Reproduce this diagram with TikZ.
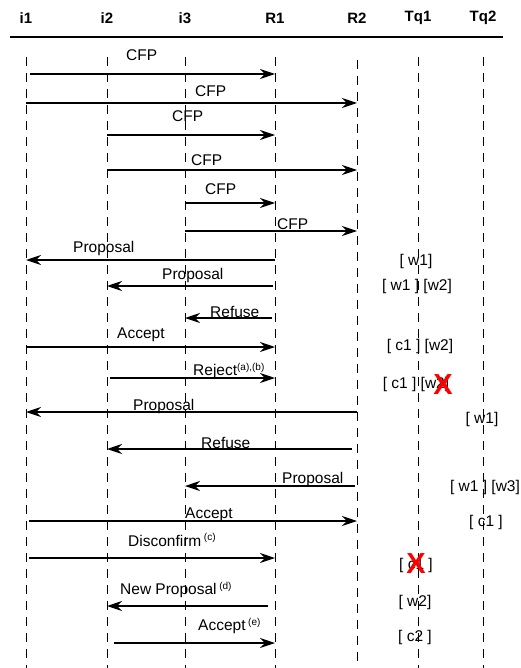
\documentclass[tikz,border=0pt]{standalone}
\usepackage{fontspec}
\setmainfont{Liberation Sans}
\usetikzlibrary{arrows.meta}

\newcommand{\supnote}[1]{\raisebox{0.7ex}{\fontsize{10}{12}\selectfont #1}}

\tikzset{
  actor/.style={font=\fontsize{15}{18}\selectfont\bfseries, inner sep=1pt},
  lifeline/.style={line width=0.8pt, dash pattern=on 9pt off 7pt},
  msg/.style={line width=1.2pt, -{Stealth[length=15pt,width=10pt,inset=5pt]}},
  msglabel/.style={font=\fontsize{15.5}{18}\selectfont, anchor=west, inner sep=0pt},
  queue/.style={font=\fontsize{15.5}{18}\selectfont, inner sep=0pt},
  cancel/.style={text=red, font=\fontsize{29}{30}\selectfont\bfseries, inner sep=0pt}
}

\begin{document}
\begin{tikzpicture}[x=1pt,y=-1pt]
  \useasboundingbox (0,0) rectangle (520,668);

  % agents
  \node[actor] (i1) at (26,18)  {i1};
  \node[actor] (i2) at (107,18) {i2};
  \node[actor] (i3) at (185,18) {i3};
  \node[actor] (R1) at (275,18) {R1};
  \node[actor] (R2) at (357,18) {R2};
  \node[actor] (Tq1) at (418,18) {Tq1};
  \node[actor] (Tq2) at (483,18) {Tq2};
  \draw[line width=1.4pt] (10,37) -- (503,37);

  \foreach \n/\top in {i1/57,i2/57,i3/57,R1/57,R2/60,Tq1/57,Tq2/57}
    \draw[lifeline] (\n |- 0,\top) -- (\n |- 0,668);

  % messages
  \foreach \from/\to/\y/\gap/\lx/\ly/\txt [count=\k] in {
    i1/R1/74/4/126/55/CFP,
    i1/R2/103/0/195/91/CFP,
    i2/R1/135/0/172/116/CFP,
    i2/R2/170/0/191/160/CFP,
    i3/R1/203/0/205/189/CFP,
    i3/R2/231/0/277/224/CFP,
    R1/i1/260/0/73/248/Proposal,
    R1/i2/286/2/162/275/Proposal,
    R1/i3/318/3/210/312/Refuse,
    i1/R1/347/0/117/335/Accept,
    i2/R1/378/3/193/371/{Reject\supnote{(a),(b)}},
    R2/i1/412/0/133/406/Proposal,
    R2/i2/449/5/201/443/Refuse,
    R2/i3/486/2/282/479/Proposal,
    i1/R2/521/3/185/515/Accept,
    i1/R1/558/3/128/540/{Disconfirm\,\supnote{(c)}},
    R1/i2/606/7/120/590/{New Proposal\,\supnote{(d)}},
    i2/R1/643/7/198/626/{Accept\,\supnote{(e)}}
  }{
    \draw[msg, shorten <=\gap pt] (\from |- 0,\y) -- (\to |- 0,\y);
    \node[msglabel] (lab\k) at (\lx,\ly) {\txt};
  }

  % queues of the task agents
  \node[queue] (q1) at (416,261) {[ w1]};
  \node[queue] (q2) at (417,286) {[ w1 ] [w2]};
  \node[queue] (q3) at (420,346) {[ c1 ] [w2]};
  \node[queue] (q4) at (416,384) {[ c1 ] [w2]};
  \node[cancel] (x1) at (443,385) {X};
  \node[queue] (q5) at (482,419) {[ w1]};
  \node[queue] (q6) at (485,487) {[ w1 ] [w3]};
  \node[queue] (q7) at (486,522) {[ c1 ]};
  \node[queue] (q8) at (416,565) {[ c1 ]};
  \node[cancel] (x2) at (416,564) {X};
  \node[queue] (q9) at (415,602) {[ w2]};
  \node[queue] (q10) at (415,637) {[ c2 ]};
\end{tikzpicture}
\end{document}
